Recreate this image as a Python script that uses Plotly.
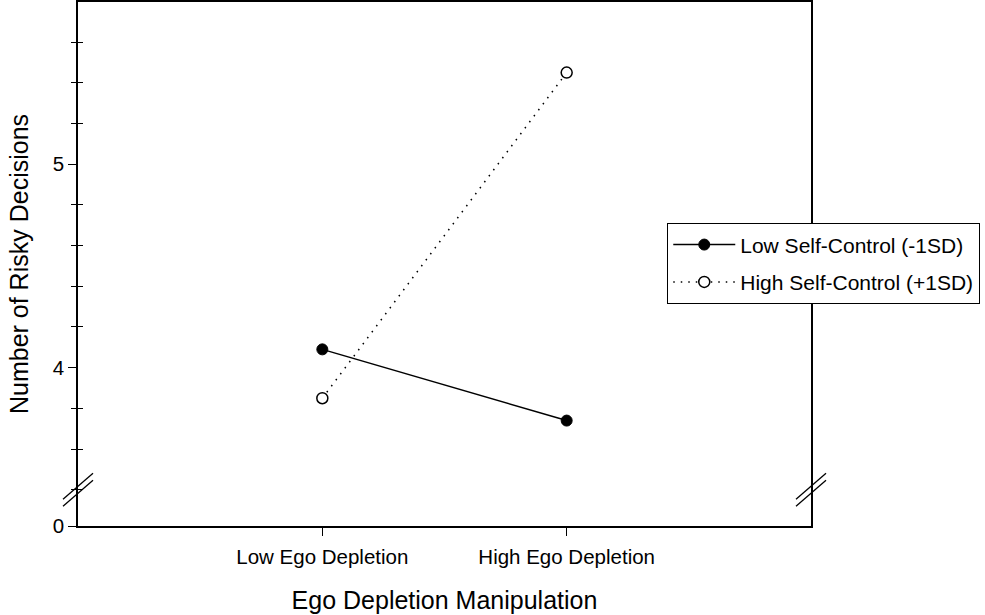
import plotly.graph_objects as go

# Data
categories = ["Low Ego Depletion", "High Ego Depletion"]
cat_pos = [1, 2]
low_sc = [4.09, 3.74]
high_sc = [3.85, 5.45]
series_names = ["Low Self-Control (-1SD)", "High Self-Control (+1SD)"]

# Axis set-up (broken axis: values below the break are drawn compressed to "0")
y_min, y_max = 3.222, 5.797
y_break = 3.4
major_vals = [y_min, 4, 5]
major_text = ["0", "4", "5"]
minor_vals = [3.4, 3.6, 3.8, 4.2, 4.4, 4.6, 4.8, 5.2, 5.4, 5.6]

FONT = "Arial, Liberation Sans, sans-serif"

fig = go.Figure()
fig.add_trace(go.Scatter(
    x=cat_pos, y=low_sc, name=series_names[0], mode="lines+markers",
    legendgroup="a",
    line=dict(color="black", width=1.5),
    marker=dict(size=11, color="black", line=dict(color="black", width=1)),
))
fig.add_trace(go.Scatter(
    x=cat_pos, y=high_sc, name=series_names[1], mode="lines+markers",
    legendgroup="b",
    line=dict(color="black", width=1.5, dash="1.5px,6px"),
    marker=dict(size=11, color="white", line=dict(color="black", width=1.5)),
))
# invisible trace to carry inside minor ticks on overlay axis
fig.add_trace(go.Scatter(x=[None], y=[None], yaxis="y2", showlegend=False, hoverinfo="skip"))

fig.update_layout(
    width=985, height=615,
    margin=dict(l=78, r=174, t=2, b=89, autoexpand=False),
    paper_bgcolor="white", plot_bgcolor="white",
    font=dict(family=FONT, size=20.5, color="black"),
    showlegend=True,
    legend=dict(
        x=0.8035, y=0.578, xanchor="left", yanchor="top",
        bgcolor="white", bordercolor="black", borderwidth=1.3,
        font=dict(family=FONT, size=21, color="black"),
        itemwidth=62, tracegroupgap=7,
    ),
    xaxis=dict(
        range=[0, 3], tickvals=cat_pos, ticktext=categories,
        ticks="outside", ticklen=8, tickwidth=1.3, tickcolor="black",
        ticklabelstandoff=4,
        showline=True, linecolor="black", linewidth=1.5, mirror=True,
        showgrid=False, zeroline=False, automargin=False,
        tickfont=dict(size=20.5),
        title=dict(text="Ego Depletion Manipulation", font=dict(size=25), standoff=24),
    ),
    yaxis=dict(
        range=[y_min, y_max], tickvals=major_vals, ticktext=major_text,
        ticks="outside", ticklen=8, tickwidth=1.3, tickcolor="black",
        minor=dict(tickvals=minor_vals, ticks="outside", ticklen=5, tickwidth=1.3, tickcolor="black"),
        showline=True, linecolor="black", linewidth=1.5, mirror=True,
        showgrid=False, zeroline=False, automargin=False,
        tickfont=dict(size=20.5),
        title=dict(text="Number of Risky Decisions", font=dict(size=25), standoff=17),
    ),
    yaxis2=dict(
        overlaying="y", side="left", range=[y_min, y_max], automargin=False,
        tickvals=minor_vals, ticks="inside", ticklen=5, tickwidth=1.3, tickcolor="black",
        showticklabels=False, showline=False, showgrid=False, zeroline=False,
    ),
)

# Axis-break marks (two parallel slashes on left and right axes)
for xa in (0, 1):
    for dy in (-3.5, 3.5):
        fig.add_shape(
            type="line", xref="paper", yref="y",
            xsizemode="pixel", ysizemode="pixel",
            xanchor=xa, yanchor=y_break,
            x0=-15, x1=15, y0=-13 + dy, y1=13 + dy,
            line=dict(color="black", width=1.3),
        )

fig.write_html(
    "out.html",
    config={"displayModeBar": False},
    post_script="document.body.style.margin='0';document.body.style.overflow='hidden';",
)
